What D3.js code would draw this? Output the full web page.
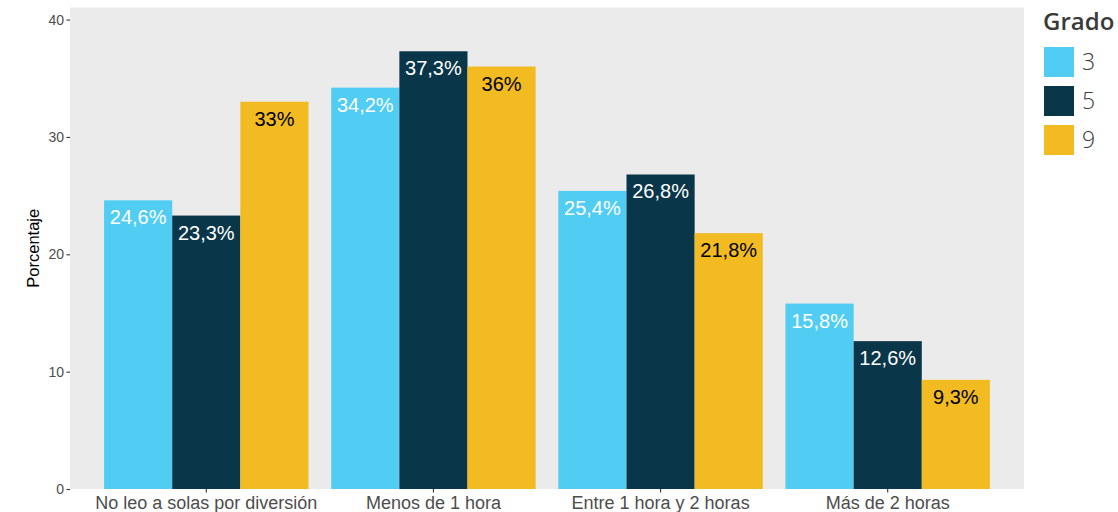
<!DOCTYPE html>
<html>
<head>
<meta charset="utf-8">
<script src="https://cdn.jsdelivr.net/npm/d3@7"></script>
<style>
  html, body { margin: 0; padding: 0; background: #fff; }
  svg { display: block; }
</style>
</head>
<body>
<svg id="chart" width="1118" height="512"></svg>
<script>
const categories = ["No leo a solas por diversión", "Menos de 1 hora", "Entre 1 hora y 2 horas", "Más de 2 horas"];
const grades = ["3", "5", "9"];
const grade3 = [24.6, 34.2, 25.4, 15.8];
const grade5 = [23.3, 37.3, 26.8, 12.6];
const grade9 = [33.0, 36.0, 21.8, 9.3];
const yTicks = [0, 10, 20, 30, 40];
const colors = ["#51CDF4", "#0A3649", "#F1BB21"];
const labelColors = ["#FFFFFF", "#FFFFFF", "#000000"];

const seriesValues = [grade3, grade5, grade9];
const rows = [];
categories.forEach((c, i) => {
  grades.forEach((g, j) => rows.push({cat: c, grade: g, gi: j, value: seriesValues[j][i]}));
});

const fmt = v => (Number.isInteger(v) ? String(v) : v.toFixed(1).replace(".", ",")) + "%";

const svg = d3.select("#chart");
const panel = {left: 70, right: 1024, top: 7.5, bottom: 489};

const x = d3.scaleBand().domain(categories).range([panel.left, panel.right])
  .paddingInner(0.1).paddingOuter(0.15);
const xi = d3.scaleBand().domain(grades).range([0, x.bandwidth()]);
const y = d3.scaleLinear().domain([0, 37.3 * 1.1]).range([panel.bottom, panel.top]);
const color = d3.scaleOrdinal().domain(grades).range(colors);

svg.append("rect")
  .attr("x", panel.left).attr("y", panel.top)
  .attr("width", panel.right - panel.left).attr("height", panel.bottom - panel.top)
  .attr("fill", "#EBEBEB");

svg.append("g").selectAll("rect").data(rows).join("rect")
  .attr("x", d => x(d.cat) + xi(d.grade))
  .attr("y", d => y(d.value))
  .attr("width", xi.bandwidth())
  .attr("height", d => y(0) - y(d.value))
  .attr("fill", d => color(d.grade));

svg.append("g").selectAll("text").data(rows).join("text")
  .attr("x", d => x(d.cat) + xi(d.grade) + xi.bandwidth() / 2)
  .attr("y", d => y(d.value) + 24)
  .attr("text-anchor", "middle")
  .attr("font-family", "'Liberation Sans', Arial, sans-serif")
  .attr("font-size", 20)
  .attr("fill", d => labelColors[d.gi])
  .text(d => fmt(d.value));

// Y axis
const yAxis = svg.append("g")
  .attr("transform", `translate(${panel.left},0)`)
  .call(d3.axisLeft(y).tickValues(yTicks).tickSize(3.5).tickPadding(2.5).tickFormat(d3.format("d")));
yAxis.select(".domain").remove();
yAxis.selectAll("line").attr("stroke", "#333333").attr("stroke-width", 1.1);
yAxis.selectAll("text").attr("font-family", "'Liberation Sans', Arial, sans-serif")
  .attr("font-size", 14).attr("fill", "#4D4D4D");

// X axis
const xAxis = svg.append("g")
  .attr("transform", `translate(0,${panel.bottom})`)
  .call(d3.axisBottom(x).tickSize(3.5).tickPadding(3));
xAxis.select(".domain").remove();
xAxis.selectAll("line").attr("stroke", "#333333").attr("stroke-width", 1.1);
xAxis.selectAll("text").attr("font-family", "'Liberation Sans', Arial, sans-serif")
  .attr("font-size", 18).attr("fill", "#4D4D4D").attr("dy", null).attr("y", 19.5);

// Y axis title
svg.append("text")
  .attr("transform", `translate(38.5,${(panel.top + panel.bottom) / 2}) rotate(-90)`)
  .attr("text-anchor", "middle")
  .attr("font-family", "'Liberation Sans', Arial, sans-serif")
  .attr("font-size", 16.5).attr("fill", "#000")
  .text("Porcentaje");

// Legend
const legend = svg.append("g").attr("transform", "translate(1044,0)");
legend.append("text")
  .attr("x", -1).attr("y", 30)
  .attr("font-family", "'Open Sans', sans-serif")
  .attr("font-weight", 600).attr("font-size", 24).attr("fill", "#3A3A3A")
  .text("Grado");
const li = legend.selectAll("g").data(grades).join("g")
  .attr("transform", (d, i) => `translate(0,${47 + i * 39})`);
li.append("rect").attr("width", 30).attr("height", 30).attr("fill", d => color(d));
li.append("text").attr("x", 38).attr("y", 23)
  .attr("font-family", "'Open Sans', sans-serif")
  .attr("font-weight", 300).attr("font-size", 23).attr("fill", "#3A3A3A")
  .text(d => d);
</script>
</body>
</html>
